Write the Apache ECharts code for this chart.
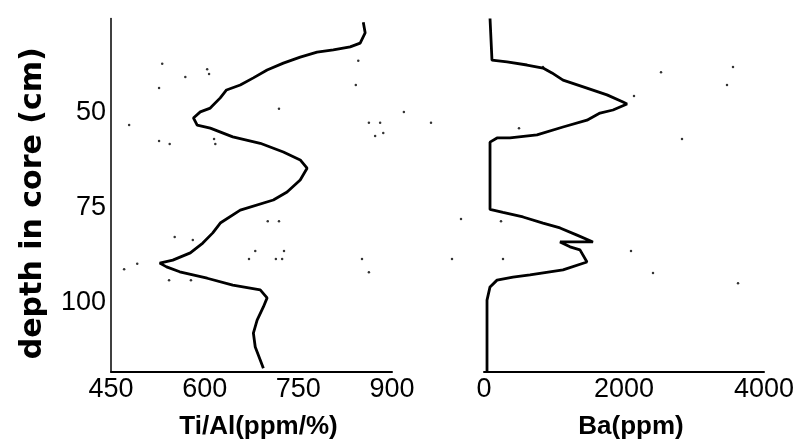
<!DOCTYPE html>
<html>
<head>
<meta charset="utf-8">
<script src="https://cdn.jsdelivr.net/npm/echarts@6/dist/echarts.min.js"></script>
<style>
html,body{margin:0;padding:0;background:#fff;}
#c{width:811px;height:440px;}
</style>
</head>
<body>
<div id="c"></div>
<script>
// Ti/Al (ppm/%) profile: [value, depth cm]
const tiAlValues = [854,857,849,833,806,780,753,726,700,678,657,635,625,609,593,582,588,609,645,689,726,753,764,753,732,710,657,625,613,597,577,549,528,539,560,604,645,689,700,694,684,678,681,689,694];
const tiAlDepths = [26,28.8,31.5,32.5,33.3,33.9,35.2,36.8,38.6,40.7,42.6,43.9,46,48.7,49.7,51.3,53.2,54,56.3,58,60.3,62.4,64.6,67.7,70.9,73,75.7,79.1,81.7,84.4,87,88.9,89.7,90.7,92,93.7,95.5,96.8,98.9,101.3,104.8,108.2,111.9,115.3,117.5];

// Ba (ppm) profile
const baValues = [86,114,329,614,843,971,1129,1471,1757,1986,2043,1843,1657,1471,1129,757,371,186,86,86,271,557,843,1086,1329,1557,1086,1229,1371,1471,1129,657,414,186,86,43,43];
const baDepths = [25,36,36.5,37.3,38.1,39.4,41.3,43.4,45.2,47.1,47.6,49.2,50,51.9,53.7,55.8,56.6,56.6,57.7,75.5,76.3,77.5,79.1,80.4,82.3,84.1,84.1,85.4,86.2,89.4,91.5,92.8,93.4,94.2,96,99.5,118.5];

// stray specks seen in the scan
const tiAlSpeckX = [532,604,607,569,527,846,842,719,479,863,881,873,886,527,544,615,617,701,719,552,581,681,727,671,714,724,852,863,471,492,543,578,919];
const tiAlSpeckY = [37,38.4,39.7,40.5,43.4,36.2,42.6,48.9,53.2,52.6,52.6,56.1,55.3,57.4,58.2,56.9,58.2,78.6,78.6,82.8,83.6,86.5,86.5,88.6,88.6,88.6,88.6,92.1,91.3,89.9,94.2,94.2,49.7];
const baSpeckX = [2529,3557,3471,2143,-757,500,2829,-329,243,-457,271,2100,2414,3629,843];
const baSpeckY = [39.2,37.8,42.6,45.5,52.6,54,56.9,78,78.6,88.6,88.6,86.5,92.3,95,37.8];

// axis settings
const depthMin = 25, depthMax = 118.5, depthStep = 25;
const tiAlMin = 450, tiAlMax = 900, tiAlStep = 150;
const baMin = 0, baMax = 4000, baStep = 2000;

const zip = (a, b) => a.map((v, i) => [v, b[i]]);

const FONT = '"Liberation Sans", Arial, sans-serif';
const plain = v => String(v);
const labelStyle = {color:'#000', fontFamily:FONT, fontSize:27, formatter:plain};
const nameStyle = {color:'#000', fontFamily:FONT, fontSize:26, fontWeight:'bold'};

const chart = echarts.init(document.getElementById('c'), null, {renderer:'canvas'});
chart.setOption({
  backgroundColor:'#fff',
  animation:false,
  grid:[
    {left:111, top:18.5, width:281, height:353.5, containLabel:false, outerBoundsMode:'none'},
    {left:484, top:18.5, width:280, height:353.5, containLabel:false, outerBoundsMode:'none'}
  ],
  xAxis:[
    {gridIndex:0, type:'value', min:tiAlMin, max:tiAlMax, interval:tiAlStep,
     axisLine:{lineStyle:{color:'#000', width:2}}, axisTick:{show:false}, splitLine:{show:false},
     axisLabel:Object.assign({margin:4}, labelStyle),
     name:'Ti/Al(ppm/%)', nameLocation:'middle', nameGap:42, nameTextStyle:Object.assign({padding:[0,0,0,14]}, nameStyle)},
    {gridIndex:1, type:'value', min:baMin, max:baMax, interval:baStep,
     axisLine:{lineStyle:{color:'#000', width:2}}, axisTick:{show:false}, splitLine:{show:false},
     axisLabel:Object.assign({margin:4}, labelStyle),
     name:'Ba(ppm)', nameLocation:'middle', nameGap:42, nameTextStyle:Object.assign({padding:[0,0,0,14]}, nameStyle)}
  ],
  yAxis:[
    {gridIndex:0, type:'value', inverse:true, min:depthMin, max:depthMax, interval:depthStep,
     axisLine:{show:true, lineStyle:{color:'#000', width:1.5}}, axisTick:{show:false}, splitLine:{show:false},
     axisLabel:Object.assign({margin:5, showMinLabel:false, showMaxLabel:false}, labelStyle),
     name:'depth in core (cm)', nameLocation:'middle', nameRotate:90, nameGap:63,
     nameTextStyle:{color:'#000', fontFamily:'"DejaVu Sans", sans-serif', fontSize:30, fontWeight:'bold', padding:[0,16,0,0]}},
    {gridIndex:1, type:'value', inverse:true, min:depthMin, max:depthMax, interval:depthStep, show:false}
  ],
  series:[
    {type:'line', xAxisIndex:0, yAxisIndex:0, data:zip(tiAlValues, tiAlDepths), symbol:'none',
     lineStyle:{color:'#000', width:2.8}},
    {type:'line', xAxisIndex:1, yAxisIndex:1, data:zip(baValues, baDepths), symbol:'none',
     lineStyle:{color:'#000', width:2.8}},
    {type:'scatter', xAxisIndex:0, yAxisIndex:0, data:zip(tiAlSpeckX, tiAlSpeckY), symbolSize:2.5, clip:false,
     itemStyle:{color:'#000'}},
    {type:'scatter', xAxisIndex:1, yAxisIndex:1, data:zip(baSpeckX, baSpeckY), symbolSize:2.5, clip:false,
     itemStyle:{color:'#000'}}
  ]
});
</script>
</body>
</html>
